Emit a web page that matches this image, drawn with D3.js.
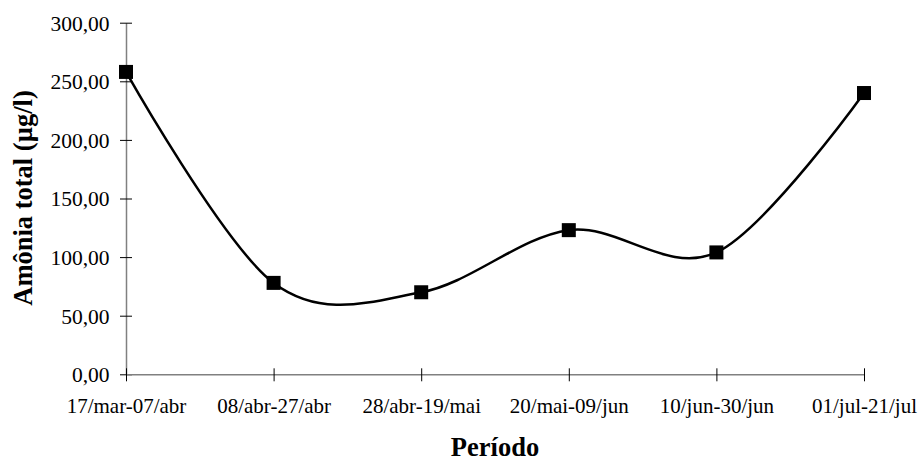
<!DOCTYPE html>
<html><head><meta charset="utf-8">
<script src="https://cdn.jsdelivr.net/npm/d3@7"></script>
<style>body{margin:0;background:#fff}svg{display:block}</style>
</head><body>
<svg id="chart" width="922" height="461"></svg>
<script>
const categories = ["17/mar-07/abr","08/abr-27/abr","28/abr-19/mai","20/mai-09/jun","10/jun-30/jun","01/jul-21/jul"];
const values = [258, 78, 70, 123, 104, 240];
const yTicks = [0, 50, 100, 150, 200, 250, 300];
const yTitle = "Amônia total (µg/l)";
const xTitle = "Período";

const FONT = "Liberation Serif, Times New Roman, serif";
const svg = d3.select("#chart");
const x = d3.scalePoint().domain(categories).range([126, 864]).padding(0);
const y = d3.scaleLinear().domain([0, 300]).range([374.3, 22.7]);
const fmt = v => d3.format(".2f")(v).replace(".", ",");

// y axis
const gy = svg.append("g").attr("transform", "translate(126,0)")
  .call(d3.axisLeft(y).tickValues(yTicks).tickFormat(fmt).tickSizeInner(6).tickSizeOuter(0).tickPadding(10.5));
gy.select(".domain").attr("stroke", "#808080").attr("stroke-width", 1.5);
gy.selectAll(".tick line").attr("x2", 6).attr("x1", -6).attr("stroke", "#000");
gy.selectAll("text").attr("font-family", FONT).attr("font-size", 21.5).attr("fill", "#000").attr("dy", "0.34em");

// x axis
const gx = svg.append("g").attr("transform", "translate(0,374.3)")
  .call(d3.axisBottom(x).tickSizeInner(7).tickSizeOuter(0).tickPadding(17));
gx.select(".domain").attr("stroke", "#808080").attr("stroke-width", 1.5);
gx.selectAll(".tick line").attr("y1", -6).attr("y2", 7).attr("stroke", "#000");
gx.selectAll("text").attr("font-family", FONT).attr("font-size", 21).attr("fill", "#000");

// line
const line = d3.line().x((d, i) => x(categories[i])).y(d => y(d)).curve(d3.curveCardinal.tension(0));
svg.append("path").datum(values).attr("d", line).attr("fill", "none").attr("stroke", "#000").attr("stroke-width", 2.5);

// markers
const ms = 14;
svg.selectAll("rect.m").data(values).enter().append("rect").attr("class", "m")
  .attr("x", (d, i) => x(categories[i]) - ms / 2).attr("y", d => y(d) - ms / 2)
  .attr("width", ms).attr("height", ms).attr("fill", "#000");

// titles
svg.append("text").attr("transform", "translate(32,198) rotate(-90)").attr("text-anchor", "middle")
  .attr("font-family", FONT).attr("font-weight", "bold").attr("font-size", 26.5)
  .text(yTitle);
svg.append("text").attr("x", 495).attr("y", 456).attr("text-anchor", "middle")
  .attr("font-family", FONT).attr("font-weight", "bold").attr("font-size", 26.5)
  .text(xTitle);
</script>
</body></html>
